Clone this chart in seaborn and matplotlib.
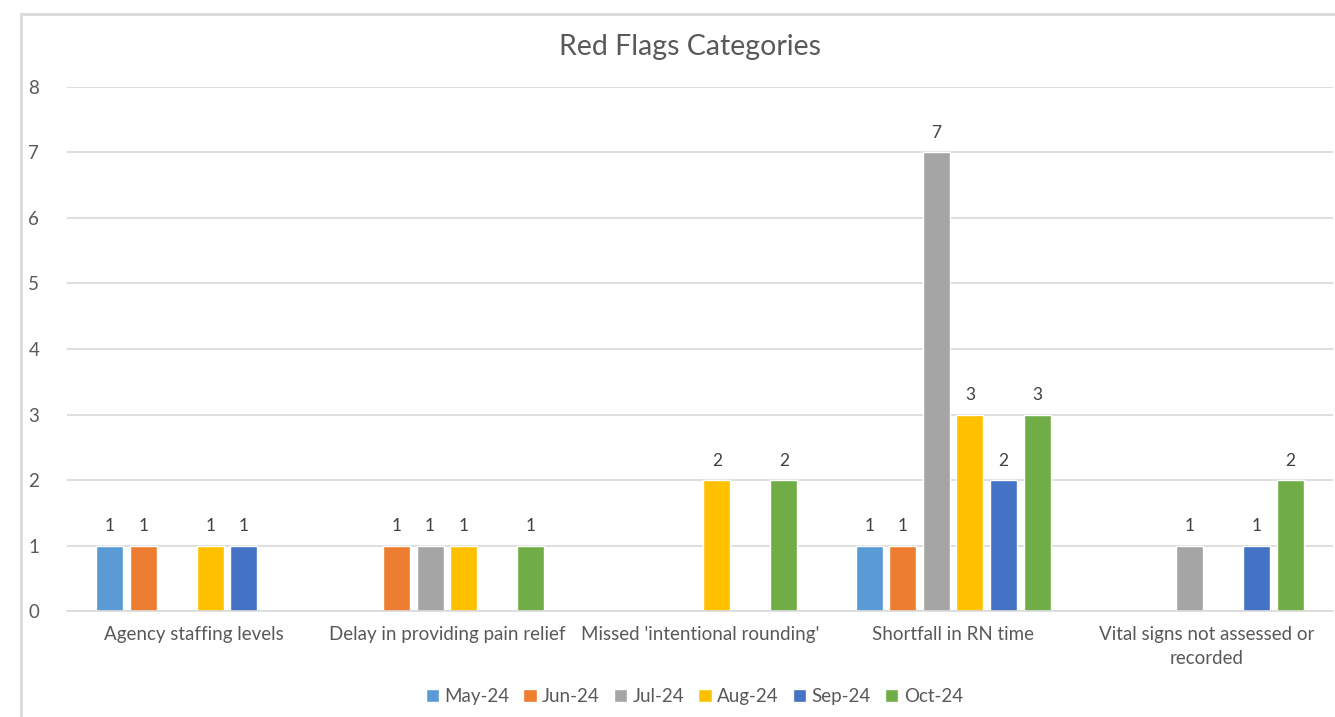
import pandas as pd
import seaborn as sns
import matplotlib.pyplot as plt
from matplotlib.patches import Rectangle

# chart data
categories = ["Agency staffing levels", "Delay in providing pain relief",
              "Missed 'intentional rounding'", "Shortfall in RN time",
              "Vital signs not assessed or\nrecorded"]
months = ["May-24", "Jun-24", "Jul-24", "Aug-24", "Sep-24", "Oct-24"]
may_24 = [1, 0, 0, 1, 0]
jun_24 = [1, 1, 0, 1, 0]
jul_24 = [0, 1, 0, 7, 1]
aug_24 = [1, 1, 2, 3, 0]
sep_24 = [1, 0, 0, 2, 1]
oct_24 = [0, 1, 2, 3, 2]
colors = ["#5B9BD5", "#ED7D31", "#A5A5A5", "#FFC000", "#4472C4", "#70AD47"]

series = [may_24, jun_24, jul_24, aug_24, sep_24, oct_24]
rows = []
for m, vals in zip(months, series):
    for c, v in zip(categories, vals):
        if v > 0:  # empty cells are not drawn
            rows.append({"Category": c, "Month": m, "Count": v})
df = pd.DataFrame(rows)

sns.set_style("white")
plt.rcParams['font.family'] = ['Lato', 'DejaVu Sans']
text_col = "#595959"

fig = plt.figure(figsize=(13.35, 7.17), dpi=100)
ax = fig.add_axes([0.0502, 0.1478, 0.9483, 0.7309])

sns.barplot(data=df, x="Category", y="Count", hue="Month", order=categories,
            hue_order=months, palette=colors, width=0.795, gap=0.195,
            saturation=1, ax=ax, legend=True)

for cont in ax.containers:
    ax.bar_label(cont, fmt="%g", padding=8, fontsize=12.5, color="#404040")

ax.set_ylim(0, 8)
ax.set_xlim(-0.5, 4.5)
ax.set_yticks(range(0, 9))
ax.yaxis.grid(True, color="#D9D9D9", lw=1.2)
ax.set_axisbelow(True)
for s in ["top", "right", "left"]:
    ax.spines[s].set_visible(False)
ax.spines["bottom"].set_color("#D9D9D9")
ax.spines["bottom"].set_linewidth(1.2)
ax.tick_params(axis="both", length=0, labelsize=13.5, labelcolor=text_col)
ax.tick_params(axis="y", pad=20)
ax.tick_params(axis="x", pad=11)
for lbl in ax.get_xticklabels():
    lbl.set_linespacing(1.45)
ax.set_xlabel("")
ax.set_ylabel("")

fig.text(0.5165, 0.935, "Red Flags Categories", ha="center", va="center",
         fontsize=20.5, color=text_col)

handles, labels = ax.get_legend_handles_labels()
ax.legend(handles, labels, loc="center", bbox_to_anchor=(0.52, 0.029),
          bbox_transform=fig.transFigure, ncol=6, frameon=False,
          fontsize=13.5, labelcolor=text_col, handlelength=0.7,
          handleheight=0.7, handletextpad=0.3, columnspacing=0.75)

fig.patches.append(Rectangle((21 / 1335, -0.05), 1.0, 0.05 + 1 - 14 / 717,
                             transform=fig.transFigure, fill=False,
                             edgecolor="#D9D9D9", lw=2))

fig.savefig("out.png", dpi=100)
